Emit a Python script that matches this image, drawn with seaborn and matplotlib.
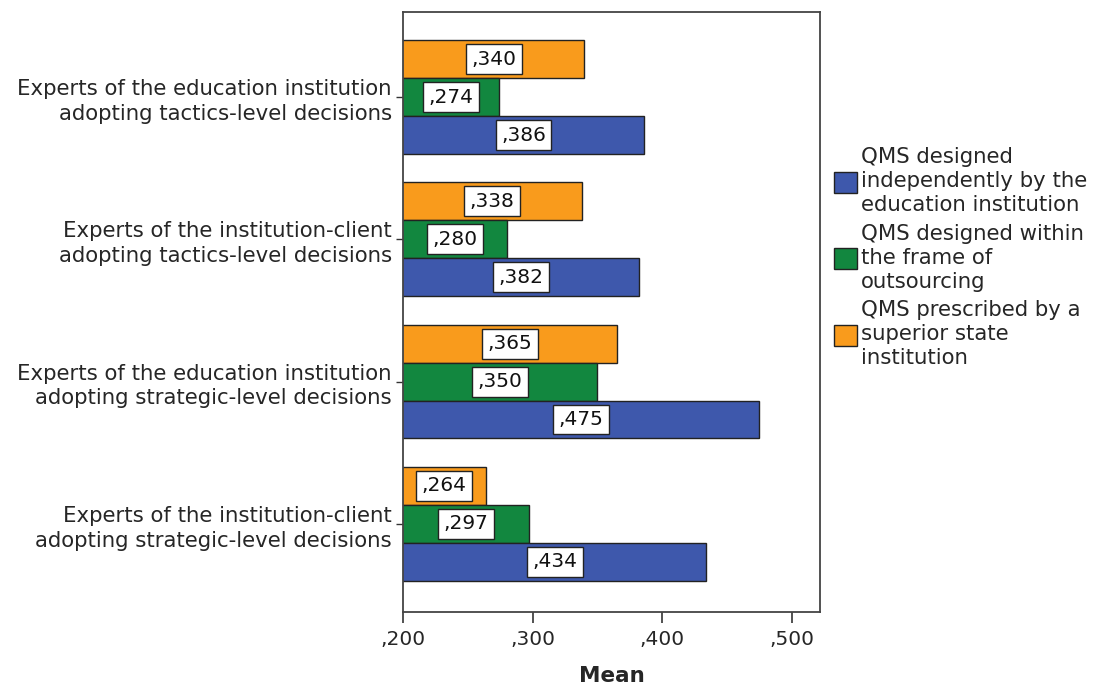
import pandas as pd
import matplotlib
matplotlib.use("Agg")
import matplotlib.pyplot as plt
from matplotlib.ticker import FuncFormatter
import seaborn as sns

# Data
groups = [
    "Experts of the education institution\nadopting tactics-level decisions",
    "Experts of the institution-client\nadopting tactics-level decisions",
    "Experts of the education institution\nadopting strategic-level decisions",
    "Experts of the institution-client\nadopting strategic-level decisions",
]
series = [
    "QMS designed\nindependently by the\neducation institution",
    "QMS designed within\nthe frame of\noutsourcing",
    "QMS prescribed by a\nsuperior state\ninstitution",
]
independent = [0.386, 0.382, 0.475, 0.434]
outsourcing = [0.274, 0.280, 0.350, 0.297]
prescribed = [0.340, 0.338, 0.365, 0.264]
colors = ["#3E58AC", "#12873F", "#F99B1C"]

df = pd.DataFrame({
    "group": groups * 3,
    "series": [series[0]] * 4 + [series[1]] * 4 + [series[2]] * 4,
    "Mean": independent + outsourcing + prescribed,
})

sns.set_style("white")
plt.rcParams["font.family"] = ["DejaVu Sans"]

fig = plt.figure(figsize=(10.98, 6.9), dpi=100)
ax = fig.add_axes([0.367, 0.113, 0.380, 0.870])

hue_order = [series[2], series[1], series[0]]
palette = {series[0]: colors[0], series[1]: colors[1], series[2]: colors[2]}
sns.barplot(data=df, y="group", x="Mean", hue="series", hue_order=hue_order,
            order=groups, palette=palette, orient="h", width=0.8,
            edgecolor="#222222", linewidth=1, saturation=1, ax=ax)

ax.set_xlim(0.2, 0.522)
ax.set_ylim(3.62, -0.6)

fmt = lambda v: f"{v:.3f}".lstrip("0").replace(".", ",")

# value labels centred on the visible part of each bar
for cont in ax.containers:
    for bar in cont:
        v = bar.get_width()
        yc = bar.get_y() + bar.get_height() / 2
        ax.text((0.2 + v) / 2, yc, fmt(v),
                ha="center", va="center", fontsize=14.5, color="#111111",
                bbox=dict(boxstyle="square,pad=0.27", fc="white", ec="#222222", lw=1))

ax.xaxis.set_major_formatter(FuncFormatter(lambda v, p: fmt(v)))
ax.set_xticks([0.2, 0.3, 0.4, 0.5])
ax.tick_params(axis="x", length=8, width=1.2, labelsize=14.5, color="#333333", direction="out", bottom=True, pad=5)
ax.tick_params(axis="y", length=5, width=1, labelsize=15.3, color="#333333", direction="out", left=True, pad=3)
for t in ax.get_yticklabels():
    t.set_linespacing(1.3)
ax.set_ylabel("")
ax.set_xlabel("Mean", fontsize=15.5, fontweight="bold", labelpad=12)
for s in ax.spines.values():
    s.set_color("#444444")
    s.set_linewidth(1.3)
    s.set_visible(True)

handles, labels = ax.get_legend_handles_labels()
leg = ax.legend(handles[::-1], labels[::-1], loc="center left", bbox_to_anchor=(1.012, 0.59),
                frameon=False, fontsize=15.3, handlelength=1.1, handleheight=1.15,
                handletextpad=0.2, labelspacing=0.4, borderaxespad=0)
for t in leg.get_texts():
    t.set_linespacing(1.25)

fig.savefig("out.png", dpi=100)
